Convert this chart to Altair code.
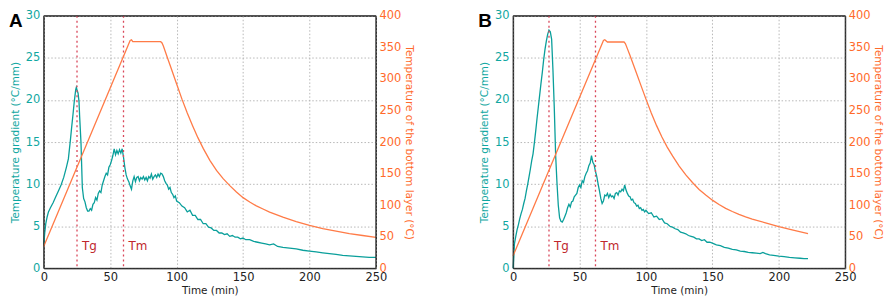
import altair as alt
import pandas as pd

# ---------------- Panel A ----------------
A_GRAD_T = [0, 0.7, 1.5, 2.5, 3.5, 5, 7, 9, 11, 13, 15, 17, 18.5, 20, 21, 22, 23, 24, 24.5, 25,
            25.8, 26.5, 27, 28, 29, 30, 31, 32, 33,
            34, 35, 36, 37, 38, 39, 40, 41, 42, 43,
            44, 45, 46, 47, 48, 49, 50, 51, 52, 53,
            54, 55, 56, 57, 58, 59, 60, 61, 62, 63,
            64, 65, 66, 67, 68, 69, 70, 71, 72, 73,
            74, 75, 76, 77, 78, 79, 80, 81, 82, 83,
            84, 85, 86, 87, 88, 89, 90, 91, 92, 93,
            94, 95, 96, 97, 98, 99, 100,
            102, 104, 106, 108, 110, 112, 114, 116, 118, 120,
            122, 124, 126, 128, 130, 132, 134, 136, 138, 140,
            142, 144, 146, 148, 150, 152, 155, 158, 161, 164,
            167, 170, 173, 176, 180, 185, 190, 195, 200, 205,
            210, 215, 220, 225, 230, 235, 240, 245, 250]
A_GRAD = [2.8, 4.2, 5.3, 6.1, 6.7, 7.2, 7.8, 8.5, 9.2, 9.9, 10.8, 12.0, 13.0, 15.2, 16.8, 18.3, 19.9, 21.2, 21.5, 21.2,
          20.8, 19.8, 18.0, 14.9, 9.6, 8.3, 7.9, 7.2, 6.8,
          6.8, 7.1, 6.9, 7.6, 7.8, 8.4, 8.1, 8.9, 9.2, 9.0,
          9.9, 10.4, 10.9, 11.3, 11.1, 12.0, 12.3, 12.8, 13.4, 14.2,
          13.5, 14.0, 13.6, 14.1, 13.7, 14.2, 13.2, 12.0, 11.1, 10.6,
          10.3, 9.8, 9.4, 10.4, 10.9, 10.3, 10.8, 10.9, 10.4, 10.8,
          10.6, 10.9, 10.5, 10.8, 10.4, 10.9, 10.7, 11.2, 10.6, 10.9,
          11.1, 10.8, 11.2, 10.9, 11.3, 11.2, 10.9, 10.4, 10.1, 9.9,
          9.4, 9.6, 9.0, 8.8, 8.4, 8.6, 8.0,
          7.8, 7.4, 7.2, 6.7, 6.9, 6.3, 6.3, 5.8, 5.8, 5.3,
          5.3, 4.9, 4.8, 4.5, 4.5, 4.2, 4.2, 4.0, 4.1, 3.8,
          3.9, 3.7, 3.7, 3.5, 3.6, 3.4, 3.4, 3.2, 3.1, 3.0,
          2.9, 2.8, 2.9, 2.6, 2.5, 2.4, 2.3, 2.15, 2.05, 1.95,
          1.85, 1.75, 1.65, 1.55, 1.48, 1.42, 1.36, 1.3, 1.3]
A_TEMP_T = [0, 65, 66, 67, 88, 89, 90, 93, 96, 100, 104, 108, 112, 116, 120, 125, 130, 135, 140, 145,
            150, 155, 160, 165, 170, 175, 180, 190, 200, 210, 220, 230, 240, 250]
A_TEMP = [35, 361, 362, 359, 359, 357, 352, 334, 316, 292, 268, 246, 226, 207, 190, 171, 155, 142, 131, 121,
          112, 105, 99, 94, 89, 85, 81, 74, 68, 63, 59, 55, 52, 49]
A_TG, A_TM = 25, 60

# ---------------- Panel B ----------------
B_GRAD_T = [0, 1, 2, 3, 4, 5, 6, 7, 8, 9,
            10, 11, 12, 13, 14, 15, 16, 17, 18, 19,
            20, 21, 22, 23, 24, 25, 26, 27, 28, 29,
            30, 31, 32, 33, 34, 35, 36, 37, 38, 39,
            40, 41, 42, 43, 44, 45, 46, 47, 48, 49,
            50, 51, 52, 53, 54, 55, 56, 57, 58, 59,
            60, 61, 62, 63, 64, 65, 66, 67, 68, 69,
            70, 71, 72, 73, 74, 75, 76, 77, 78, 79,
            80, 81, 82, 83, 84, 85, 86, 87, 88, 89,
            90, 91, 92, 93, 94, 95, 96, 97, 98, 99,
            100,
            102, 104, 106, 108, 110, 112, 114, 116, 118, 120,
            122, 124, 126, 128, 130, 132, 134, 136, 138, 140,
            142, 144, 146, 148, 150,
            153, 156, 159, 162, 165, 168, 171, 174, 177, 180,
            183, 186, 188, 190, 193, 196, 200, 204, 208, 212,
            216, 219, 222]
B_GRAD = [0.0, 2.9, 3.8, 4.6, 5.2, 5.9, 6.5, 7.0, 7.7, 8.3,
          9.2, 10.0, 10.9, 11.8, 12.8, 13.6, 14.9, 16.3, 17.8, 19.2,
          20.6, 22.0, 23.3, 24.8, 26.0, 27.0, 27.8, 28.3, 28.1, 27.2,
          23.5, 19.0, 13.5, 10.2, 7.5, 6.0, 5.6, 5.5, 5.8, 6.2,
          6.6, 7.2, 7.6, 7.3, 7.9, 8.0, 8.5, 8.7, 8.9, 9.6,
          9.9, 9.6, 10.4, 10.2, 10.9, 11.3, 11.6, 12.2, 12.5, 13.4,
          12.6, 12.3, 11.5, 10.9, 10.0, 9.2, 8.3, 7.7, 8.0, 8.7,
          8.6, 8.9, 8.4, 8.8, 8.5, 8.6, 8.3, 8.9, 9.0, 8.7,
          9.2, 9.1, 9.4, 9.2, 9.9, 9.3, 8.9, 8.6, 8.5, 8.1,
          8.2, 7.8, 7.7, 7.4, 7.5, 7.1, 7.2, 6.9, 7.0, 6.7,
          6.9,
          6.5, 6.6, 6.1, 6.2, 5.8, 5.9, 5.4, 5.3, 5.0, 4.9,
          4.7, 4.6, 4.3, 4.2, 4.1, 3.9, 3.8, 3.7, 3.5, 3.5,
          3.3, 3.4, 3.1, 3.1, 3.0,
          2.8, 2.7, 2.5, 2.4, 2.25, 2.2, 2.05, 2.0, 1.9, 1.85,
          1.8, 1.75, 1.9, 1.75, 1.6, 1.55, 1.45, 1.4, 1.3, 1.25,
          1.2, 1.15, 1.15]
B_TEMP_T = [0, 68, 69, 71, 83.5, 84.5, 86, 88, 92, 96, 100, 104, 108, 112, 116, 120, 125, 130, 135, 140,
            145, 150, 155, 160, 165, 170, 175, 180, 190, 200, 210, 222]
B_TEMP = [20, 361, 362, 358.5, 358.5, 356, 348, 337, 314, 291, 268, 246, 226, 208, 192, 178, 162, 148, 136, 125,
          116, 108, 101, 95, 90, 85.5, 81.5, 78, 72, 66, 61, 55]
B_TG, B_TM = 27, 62

# ---------------- Shared ----------------
X_TICKS = [0, 50, 100, 150, 200, 250]
LEFT_TICKS = [0, 5, 10, 15, 20, 25, 30]
RIGHT_TICKS = [0, 50, 100, 150, 200, 250, 300, 350, 400]
MARKER_LABELS = ["Tg", "Tm"]
MARKER_LEVEL = 2.7

FONT = "DejaVu Sans"
TEAL = "#0a9f9b"
TEAL_TEXT = "#10a7a1"
ORANGE = "#ff7b47"
ORANGE_TEXT = "#ff6a2b"
MARK_RED = "#d9475a"
LABEL_RED = "#c0272d"
FRAME = "#222222"

W, H = 334, 254
SPACING = 63


def panel(letter, gt, gv, ot, ov, tg, tm):
    grad = pd.DataFrame({"t": gt, "g": gv})
    temp = pd.DataFrame({"t": ot, "T": ov})
    marks = pd.DataFrame({"t": [tg, tm], "lab": MARKER_LABELS, "g": [MARKER_LEVEL, MARKER_LEVEL]})
    tag = pd.DataFrame({"lab": [letter]})

    x = alt.X("t:Q", scale=alt.Scale(domain=[0, 250], nice=False, zero=False),
              axis=alt.Axis(title="Time (min)", values=X_TICKS, grid=True, labelFlush=False,
                            format="d", labelPadding=3, titlePadding=3))
    yl = alt.Y("g:Q", scale=alt.Scale(domain=[0, 30], nice=False),
               axis=alt.Axis(title="Temperature gradient (°C/mm)", values=LEFT_TICKS, grid=True,
                             labelColor=TEAL_TEXT, titleColor=TEAL_TEXT, labelFlush=False,
                             titlePadding=5, labelPadding=4, format="d"))
    yr = alt.Y("T:Q", scale=alt.Scale(domain=[0, 400], nice=False),
               axis=alt.Axis(title="Temperature of the bottom layer (°C)", orient="right",
                             values=RIGHT_TICKS, grid=False, labelColor=ORANGE_TEXT,
                             titleColor=ORANGE_TEXT, labelFlush=False, titlePadding=3,
                             labelPadding=3, format="d"))

    line_g = alt.Chart(grad).mark_line(color=TEAL, strokeWidth=1.3).encode(x=x, y=yl)
    rules = alt.Chart(marks).mark_rule(color=MARK_RED, strokeDash=[2, 3], strokeWidth=1.3).encode(x=x)
    labels = alt.Chart(marks).mark_text(
        align="left", baseline="middle", dx=5, fontSize=12, font=FONT, color=LABEL_RED
    ).encode(x=x, y=yl, text="lab:N")
    tag_mark = alt.Chart(tag).mark_text(
        align="left", baseline="alphabetic", fontSize=19, fontWeight="bold",
        font="Liberation Sans", color="black"
    ).encode(x=alt.value(-35), y=alt.value(11), text="lab:N")
    left = alt.layer(line_g, rules, labels, tag_mark)
    line_t = alt.Chart(temp).mark_line(color=ORANGE, strokeWidth=1.3).encode(x=x, y=yr)
    # solid plot frame (spines) drawn above the dotted grid
    frame = alt.Chart(tag).mark_rect(fillOpacity=0, stroke=FRAME, strokeWidth=1).encode(
        x=alt.value(0), x2=alt.value(W), y=alt.value(0), y2=alt.value(H)
    )
    return alt.layer(left, line_t, frame).resolve_scale(y="independent").properties(width=W, height=H)


pa = panel("A", A_GRAD_T, A_GRAD, A_TEMP_T, A_TEMP, A_TG, A_TM)
pb = panel("B", B_GRAD_T, B_GRAD, B_TEMP_T, B_TEMP, B_TG, B_TM)

chart = (
    alt.hconcat(pa, pb, spacing=SPACING)
    .properties(padding=0, background="white")
    .configure_view(stroke=FRAME, strokeWidth=1)
    .configure_axis(labelFont=FONT, titleFont=FONT, labelFontSize=11.5, titleFontSize=10.5,
                    titleFontWeight="normal", domain=False, ticks=False, gridColor="#b0b0b0",
                    gridDash=[1.5, 2], gridWidth=0.9, labelColor="#222222", titleColor="#222222")
)

chart.save("out.html", embed_options={"renderer": "svg", "actions": False})
